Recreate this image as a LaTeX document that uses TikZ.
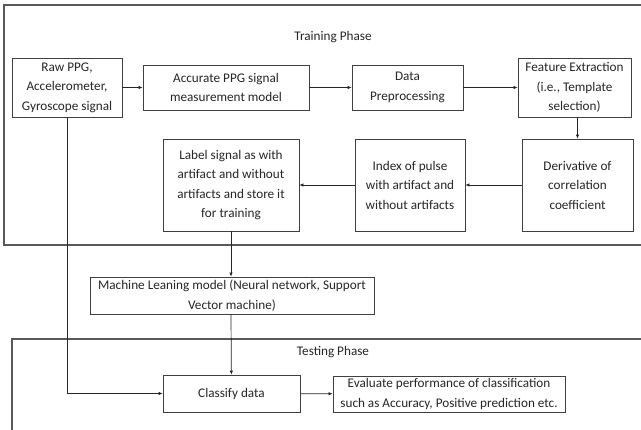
\documentclass[tikz,border=0pt]{standalone}
\usepackage{fontspec}
\setmainfont{Carlito}
\usetikzlibrary{arrows.meta}
\begin{document}
\begin{tikzpicture}
			[x=1pt, y=-1pt,
			box/.style={draw=black!75, line width=0.8pt, align=center,
				inner sep=0pt, text=black!85,
				font=\fontsize{13.2}{19.5}\selectfont},
			frame/.style={draw=black!65, line width=1.1pt},
			arr/.style={-{Latex[length=4pt,width=3.5pt]}, draw=black!85,
				line width=0.7pt},
			phase/.style={text=black!85,
				font=\fontsize{13.2}{19.5}\selectfont}]
			\clip (0,0) rectangle (641,430);
			\fill[white] (0,0) rectangle (641,430);
			% phase frames
			\draw[frame] (4,5) rectangle (660,245);
			\draw[frame] (12,339) rectangle (660,450);
			\node[phase] (train) at (333,37) {Training Phase};
			\node[phase] (test) at (333,352) {Testing Phase};
			% training boxes
			\node[box, minimum width=110, minimum height=59] (raw) at (67,87.5)
				{Raw PPG,\\ Accelerometer,\\ Gyroscope signal};
			\node[box, minimum width=166, minimum height=45] (acc) at (226,87.5)
				{Accurate PPG signal\\ measurement model};
			\node[box, minimum width=111, minimum height=45] (prep) at (407.5,87.5)
				{Data\\ Preprocessing};
			\node[box, minimum width=113, minimum height=59] (feat) at (574.5,87.5)
				{Feature Extraction\\ (i.e., Template\\ selection)};
			\node[box, minimum width=111, minimum height=92] (deriv) at (577.5,185)
				{Derivative of\\ correlation\\ coefficient};
			\node[box, minimum width=110, minimum height=92] (index) at (410,185)
				{Index of pulse\\ with artifact and\\ without artifacts};
			\node[box, minimum width=136, minimum height=92] (label) at (231,185)
				{Label signal as with\\ artifact and without\\ artifacts and store it\\ for training};
			% model and testing boxes
			\node[box, minimum width=284, minimum height=37] (ml) at (232,295.5)
				{Machine Leaning model (Neural network, Support\\ Vector machine)};
			\node[box, minimum width=137, minimum height=37] (classify) at (231.5,393.5)
				{Classify data};
			\node[box, minimum width=232, minimum height=36] (eval) at (449,394)
				{Evaluate performance of classification\\ such as Accuracy, Positive prediction etc.};
			% connectors
			\draw[arr] (raw) -- (acc);
			\draw[arr] (acc) -- (prep);
			\draw[arr] (prep) -- (feat);
			\draw[arr] (feat.south -| deriv) -- (deriv);
			\draw[arr] (deriv) -- (index);
			\draw[arr] (index) -- (label);
			\draw[arr] (label) -- (label |- ml.north);
			\draw[arr] (ml.south -| label) -- (classify);
			\draw[arr] (raw.south) |- (classify);
			\draw[arr] (classify) -- (eval);
		\end{tikzpicture}
\end{document}
